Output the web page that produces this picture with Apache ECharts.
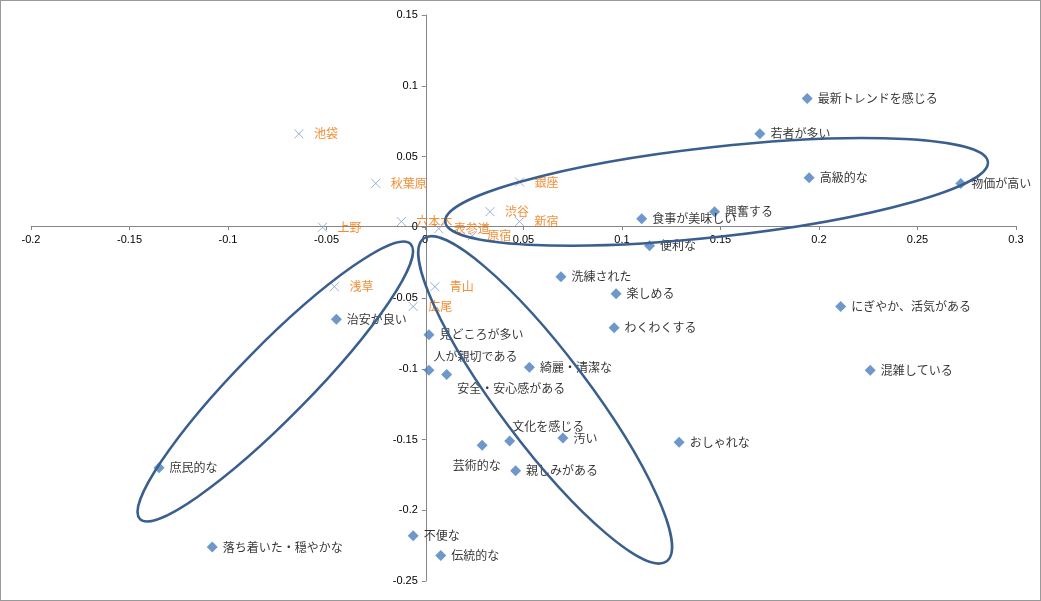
<!DOCTYPE html>
<html><head><meta charset="utf-8">
<script src="https://cdn.jsdelivr.net/npm/echarts@6/dist/echarts.min.js"></script>
<style>body{margin:0}#main{width:1041px;height:601px;box-sizing:border-box;border:1px solid #999}</style>
</head><body><div id="main"></div>
<script>
// 属性（◆）
var attrNames=['最新トレンドを感じる','若者が多い','高級的な','物価が高い','興奮する','食事が美味しい','便利な','洗練された','楽しめる','にぎやか、活気がある','わくわくする','混雑している','見どころが多い','人が親切である','綺麗・清潔な','安全・安心感がある','文化を感じる','汚い','芸術的な','おしゃれな','親しみがある','不便な','伝統的な','治安が良い','庶民的な','落ち着いた・穏やかな'];
var attrX=[0.194,0.170,0.195,0.272,0.147,0.110,0.114,0.069,0.097,0.211,0.096,0.226,0.002,0.002,0.053,0.011,0.043,0.070,0.029,0.129,0.046,-0.006,0.008,-0.045,-0.135,-0.108];
var attrY=[0.091,0.066,0.035,0.031,0.011,0.006,-0.013,-0.035,-0.047,-0.056,-0.071,-0.101,-0.076,-0.101,-0.099,-0.104,-0.151,-0.149,-0.154,-0.152,-0.172,-0.218,-0.232,-0.065,-0.170,-0.226];
// 地域（×）
var placeNames=['池袋','秋葉原','銀座','渋谷','新宿','上野','六本木','表参道','原宿','浅草','青山','広尾'];
var placeX=[-0.064,-0.025,0.048,0.033,0.048,-0.052,-0.012,0.007,0.024,-0.046,0.005,-0.006];
var placeY=[0.066,0.031,0.032,0.011,0.004,0.000,0.004,-0.001,-0.006,-0.042,-0.042,-0.056];

// ラベル位置の例外
var labelPos={'人が親切である':[-6,-14],'安全・安心感がある':[0,14],'文化を感じる':[-8,-14],'芸術的な':[-40,20]};

function build(names,xs,ys){
	var d=[];
	for(var i=0;i<names.length;i++){
		var p={name:names[i],value:[xs[i],ys[i]]};
		if(labelPos[names[i]]){p.label={offset:labelPos[names[i]]};}
		d.push(p);
	}
	return d;
}

var W=1041,H=601,L=30,R=24,T=14,B=19;
var xMin=-0.2,xMax=0.3,yMin=-0.25,yMax=0.15;
// 軸を0の位置へ
var xOff=-(H-T-B)*(0-yMin)/(yMax-yMin);
var yOff=-(W-L-R)*(0-xMin)/(xMax-xMin);

var myChart=echarts.init(document.getElementById('main'));
var option={
	animation:false,
	grid:{left:L,right:R,top:T,bottom:B},
	xAxis:{type:'value',min:xMin,max:xMax,interval:0.05,offset:xOff,
		axisLine:{onZero:false,lineStyle:{color:'#868686'}},axisTick:{show:true,length:4},
		splitLine:{show:false},axisLabel:{color:'#000',fontSize:11,fontFamily:'Liberation Sans'}},
	yAxis:{type:'value',min:yMin,max:yMax,interval:0.05,offset:yOff,
		axisLine:{onZero:false,lineStyle:{color:'#868686'}},axisTick:{show:true,length:4},
		splitLine:{show:false},axisLabel:{color:'#000',fontSize:11,fontFamily:'Liberation Sans'}},
	series:[
		{type:'scatter',symbol:'diamond',symbolSize:11,itemStyle:{color:'#4A7EBB'},
			label:{show:true,position:'right',formatter:'{b}',color:'#000',fontSize:12,fontFamily:'Noto Sans CJK JP'},
			data:build(attrNames,attrX,attrY)},
		{type:'scatter',symbol:'path://M0,0L10,10M10,0L0,10',symbolSize:9,
			itemStyle:{color:'none',borderColor:'#7E9BD0',borderWidth:1},
			label:{show:true,position:'right',distance:8,formatter:'{b}',color:'#F07000',fontSize:12,fontFamily:'Noto Sans CJK JP'},
			data:build(placeNames,placeX,placeY)}
	]
};
myChart.setOption(option);

// 楕円: 中心(データ座標), 半径(px), 回転(度)
var ellCx=[0.148,-0.076,0.061];
var ellCy=[0.025,-0.109,-0.122];
var ellRx=[273,193,202];
var ellRy=[45,36,45];
var ellRot=[6.3,45.5,-53];
var g=[];
for(var i=0;i<ellCx.length;i++){
	var c=myChart.convertToPixel({gridIndex:0},[ellCx[i],ellCy[i]]);
	g.push({type:'ellipse',x:c[0],y:c[1],rotation:ellRot[i]*Math.PI/180,
		shape:{cx:0,cy:0,rx:ellRx[i],ry:ellRy[i]},
		style:{fill:'none',stroke:'#3A5F8F',lineWidth:2.5},z:10});
}
myChart.setOption({graphic:g});
</script></body></html>
